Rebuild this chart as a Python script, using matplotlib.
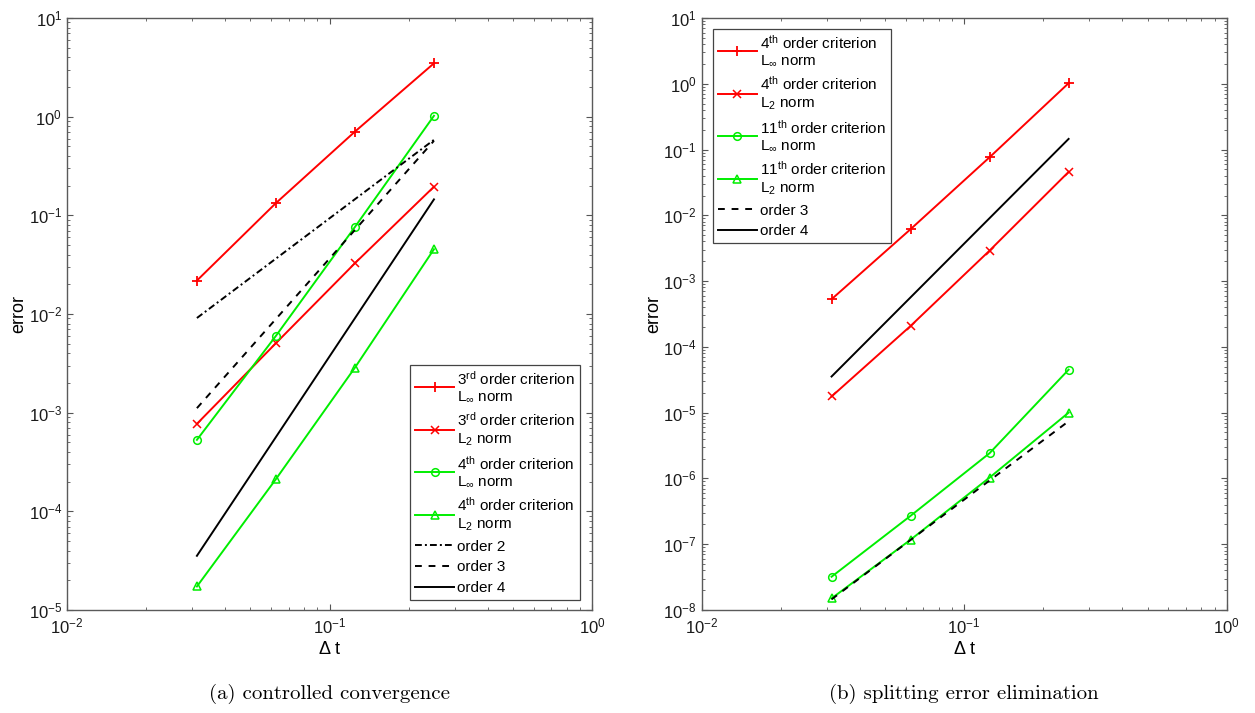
import numpy as np
import matplotlib
matplotlib.use("Agg")
import matplotlib.pyplot as plt
from matplotlib.ticker import LogLocator, NullFormatter

plt.rcParams['font.family'] = ['Liberation Sans', 'DejaVu Sans']
plt.rcParams['mathtext.fontset'] = 'custom'
plt.rcParams['mathtext.rm'] = 'Liberation Sans'
plt.rcParams['mathtext.it'] = 'Liberation Sans:italic'
plt.rcParams['mathtext.bf'] = 'Liberation Sans:bold'

dt = [0.03125, 0.0625, 0.125, 0.25]

# (a) controlled convergence
a_red_linf = [0.0218, 0.133, 0.705, 3.47]
a_red_l2 = [7.7e-4, 5.06e-3, 0.0327, 0.195]
a_green_linf = [5.3e-4, 6.0e-3, 0.0762, 1.02]
a_green_l2 = [1.73e-5, 2.12e-4, 2.86e-3, 0.0453]
a_order2 = [0.0091, 0.0364, 0.1456, 0.582]
a_order3 = [1.11e-3, 8.9e-3, 0.0711, 0.569]
a_order4 = [3.54e-5, 5.66e-4, 9.06e-3, 0.145]
a_labels = ["3$^{\\mathrm{rd}}$ order criterion\nL$_{\\infty}$ norm",
            "3$^{\\mathrm{rd}}$ order criterion\nL$_{2}$ norm",
            "4$^{\\mathrm{th}}$ order criterion\nL$_{\\infty}$ norm",
            "4$^{\\mathrm{th}}$ order criterion\nL$_{2}$ norm",
            "order 2", "order 3", "order 4"]

# (b) splitting error elimination
b_red_linf = [5.3e-4, 6.15e-3, 0.0763, 1.02]
b_red_l2 = [1.76e-5, 2.08e-4, 2.91e-3, 0.0457]
b_green_linf = [3.2e-8, 2.7e-7, 2.42e-6, 4.5e-5]
b_green_l2 = [1.5e-8, 1.17e-7, 1.03e-6, 1.0e-5]
b_order3 = [1.45e-8, 1.16e-7, 9.3e-7, 7.4e-6]
b_order4 = [3.54e-5, 5.66e-4, 9.06e-3, 0.145]
b_labels = ["4$^{\\mathrm{th}}$ order criterion\nL$_{\\infty}$ norm",
            "4$^{\\mathrm{th}}$ order criterion\nL$_{2}$ norm",
            "11$^{\\mathrm{th}}$ order criterion\nL$_{\\infty}$ norm",
            "11$^{\\mathrm{th}}$ order criterion\nL$_{2}$ norm",
            "order 3", "order 4"]

RED = '#ff0000'
GREEN = '#00ee00'
lw = 1.4
ms = 5.5

fig = plt.figure(figsize=(12.55, 7.13), dpi=100)
ax1 = fig.add_axes([0.0534, 0.1445, 0.4183, 0.8303])
ax2 = fig.add_axes([0.5591, 0.1445, 0.4183, 0.8303])


def style(ax, ylo):
    ax.set_xscale('log')
    ax.set_yscale('log')
    ax.set_xlim(1e-2, 1)
    ax.set_ylim(ylo, 10)
    ax.xaxis.set_minor_locator(LogLocator(base=10, subs=np.arange(2, 10), numticks=100))
    ax.yaxis.set_minor_locator(LogLocator(base=10, subs=np.arange(2, 10), numticks=100))
    ax.yaxis.set_major_locator(LogLocator(base=10, numticks=100))
    ax.xaxis.set_minor_formatter(NullFormatter())
    ax.yaxis.set_minor_formatter(NullFormatter())
    ax.tick_params(which='both', direction='in', top=True, right=True,
                   color='#555555', labelsize=12, labelcolor='#1a1a1a')
    ax.tick_params(which='major', length=4.5, width=0.8)
    ax.tick_params(which='minor', length=2.5, width=0.6)
    ax.tick_params(axis='x', which='major', pad=5)
    for s in ax.spines.values():
        s.set_color('#5a5a5a')
        s.set_linewidth(1.0)
    ax.set_xlabel('Δ t', fontsize=13, labelpad=3)
    ax.set_ylabel('error', fontsize=13, labelpad=1)


style(ax1, 1e-5)
ax1.plot(dt, a_red_linf, color=RED, lw=lw, marker='+', ms=ms + 1, mew=1.3, label=a_labels[0])
ax1.plot(dt, a_red_l2, color=RED, lw=lw, marker='x', ms=ms, mew=1.1, label=a_labels[1])
ax1.plot(dt, a_green_linf, color=GREEN, lw=lw, marker='o', ms=ms, mfc='none', mew=1.1, label=a_labels[2])
ax1.plot(dt, a_green_l2, color=GREEN, lw=lw, marker='^', ms=ms, mfc='none', mew=1.1, label=a_labels[3])
ax1.plot(dt, a_order2, color='black', lw=lw, dashes=(3.5, 1.6, 1.0, 1.6), label=a_labels[4])
ax1.plot(dt, a_order3, color='black', lw=lw, dashes=(3.5, 3.5), label=a_labels[5])
ax1.plot(dt, a_order4, color='black', lw=lw, label=a_labels[6])
leg1 = ax1.legend(loc='lower right', bbox_to_anchor=(0.977, 0.017), fontsize=11,
                  handlelength=2.6, handletextpad=0.2, labelspacing=0.45,
                  borderpad=0.3, borderaxespad=0, fancybox=False, framealpha=1,
                  edgecolor='#444444')
leg1.get_frame().set_linewidth(0.9)

style(ax2, 1e-8)
ax2.plot(dt, b_red_linf, color=RED, lw=lw, marker='+', ms=ms + 1, mew=1.3, label=b_labels[0])
ax2.plot(dt, b_red_l2, color=RED, lw=lw, marker='x', ms=ms, mew=1.1, label=b_labels[1])
ax2.plot(dt, b_green_linf, color=GREEN, lw=lw, marker='o', ms=ms, mfc='none', mew=1.1, label=b_labels[2])
ax2.plot(dt, b_green_l2, color=GREEN, lw=lw, marker='^', ms=ms, mfc='none', mew=1.1, label=b_labels[3])
ax2.plot(dt, b_order3, color='black', lw=lw, dashes=(3.5, 3.5), label=b_labels[4])
ax2.plot(dt, b_order4, color='black', lw=lw, label=b_labels[5])
leg2 = ax2.legend(loc='upper left', bbox_to_anchor=(0.0215, 0.981), fontsize=11,
                  handlelength=2.6, handletextpad=0.2, labelspacing=0.45,
                  borderpad=0.3, borderaxespad=0, fancybox=False, framealpha=1,
                  edgecolor='#444444')
leg2.get_frame().set_linewidth(0.9)

fig.text(0.2626, 0.02, '(a) controlled convergence', family='cmr10', fontsize=15,
         ha='center', va='baseline')
fig.text(0.7683, 0.02, '(b) splitting error elimination', family='cmr10', fontsize=15,
         ha='center', va='baseline')

fig.savefig('out.png', dpi=100)
